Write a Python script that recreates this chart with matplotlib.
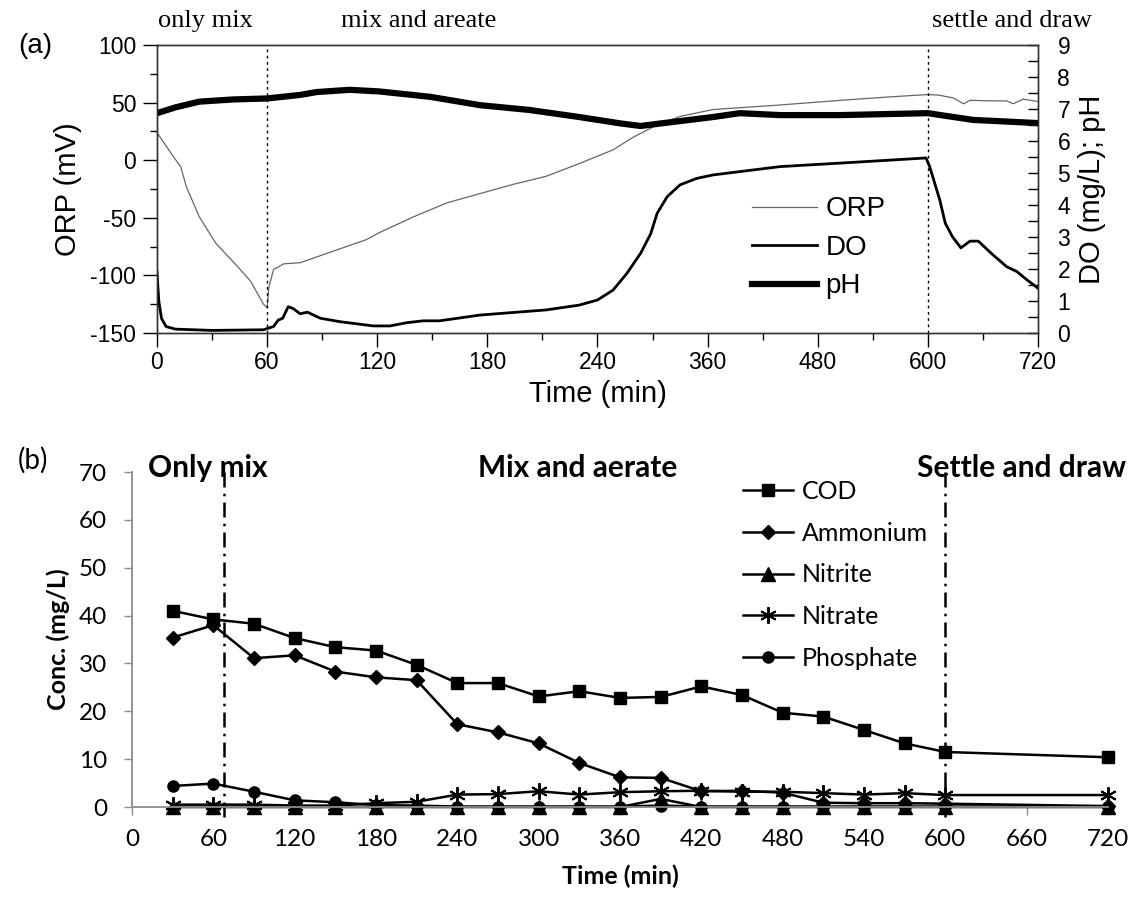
import numpy as np
import matplotlib
matplotlib.use("Agg")
import matplotlib.pyplot as plt
from matplotlib.ticker import FixedLocator, MultipleLocator

plt.rcParams["axes.unicode_minus"] = False

# ---- panel (a): online probes ----
orp_t = [0, 9, 13, 16, 23, 32, 42, 51, 58, 60, 61, 63.5, 69, 78, 87, 96, 114, 121,
         140, 158, 176, 194, 212, 230, 257, 279, 301, 330, 366, 403, 440, 505, 559,
         600, 612, 628, 639, 646, 668, 686, 693, 704, 720]
orp_v = [24, 3, -6, -23, -49, -72, -89, -105, -125, -128, -110, -95, -90, -89, -84, -79,
         -69, -63, -49, -37, -29, -21, -14, -3, 9, 20, 29, 38, 44, 46, 48, 52, 55,
         57, 56.5, 54, 49, 52, 51.5, 51.5, 49, 53, 51]

do_t = [0, 1, 2.5, 5, 10, 30, 58, 63.5, 66, 68.5, 71.5, 74, 78, 82, 89, 100, 118,
        127, 136, 145, 154, 176, 212, 230, 240, 257, 272, 287, 298, 305, 316, 330,
        348, 366, 439, 505, 598, 602, 613, 619, 627, 636, 646, 655, 671, 686, 697,
        708, 720]
do_v = [1.9, 1.0, 0.45, 0.2, 0.12, 0.08, 0.1, 0.2, 0.4, 0.46, 0.82, 0.77, 0.6, 0.65,
        0.46, 0.35, 0.22, 0.22, 0.32, 0.38, 0.38, 0.56, 0.72, 0.87, 1.03, 1.34, 1.86,
        2.49, 3.1, 3.74, 4.26, 4.63, 4.83, 4.94, 5.2, 5.31, 5.47, 5.2, 4.16, 3.43,
        3.0, 2.66, 2.87, 2.87, 2.44, 2.07, 1.92, 1.66, 1.4]

ph_t = [0, 10, 23, 42, 60, 78, 87, 105, 121, 149, 176, 203, 230, 265, 287, 312, 366,
        395, 439, 505, 600, 649, 720]
ph_v = [6.87, 7.05, 7.23, 7.3, 7.33, 7.44, 7.53, 7.6, 7.55, 7.38, 7.12, 6.97, 6.75,
        6.55, 6.47, 6.56, 6.75, 6.87, 6.81, 6.81, 6.87, 6.66, 6.56]

top_ticks = [0, 60, 120, 180, 240, 360, 480, 600, 720]
top_minor = [30, 90, 150, 210, 300, 420, 540, 660]

# ---- panel (b): grab samples ----
t_b = [30, 60, 90, 120, 150, 180, 210, 240, 270, 300, 330, 360, 390, 420, 450, 480,
       510, 540, 570, 600, 720]
cod = [41.0, 39.2, 38.3, 35.3, 33.4, 32.7, 29.7, 25.9, 25.9, 23.1, 24.2, 22.8, 23.0,
       25.2, 23.4, 19.7, 18.9, 16.1, 13.3, 11.5, 10.4]
ammonium = [35.4, 38.0, 31.1, 31.7, 28.3, 27.1, 26.5, 17.3, 15.6, 13.3, 9.2, 6.2, 6.1,
            3.3, 3.4, 3.0, 0.9, 0.8, 0.8, 0.7, 0.2]
nitrite = [0, 0, 0, 0, 0, 0, 0, 0, 0, 0, 0, 0, 1.7, 0, 0, 0, 0, 0, 0, 0, 0]
nitrate = [0.5, 0.5, 0.5, 0.3, 0.3, 0.8, 1.1, 2.6, 2.7, 3.3, 2.6, 3.1, 3.3, 3.4, 3.2,
           3.2, 2.9, 2.6, 2.9, 2.5, 2.5]
phosphate = [4.4, 4.9, 3.2, 1.4, 1.0, 0.4, 0.3, 0.1, 0.1, 0.1, 0.1, 0.1, 0.3, 0.1, 0.1,
             0.1, 0.1, 0.1, 0.1, 0.1, 0.1]


def fwd(t):
    t = np.asarray(t, dtype=float)
    return np.where(t <= 240, t, 240 + (t - 240) / 2.0)


def inv(u):
    u = np.asarray(u, dtype=float)
    return np.where(u <= 240, u, 240 + (u - 240) * 2.0)


fig = plt.figure(figsize=(11.35, 8.97), dpi=100)

# ================= (a) =================
sans = "Liberation Sans"
serif = "Liberation Serif"
ax = fig.add_axes([0.1383, 0.6288, 0.7762, 0.3210])
ax.set_xscale("function", functions=(fwd, inv))
ax.set_xlim(0, 720)
ax.set_ylim(-150, 100)
ax2 = ax.twinx()
ax2.set_ylim(0, 9)

l1, = ax.plot(orp_t, orp_v, color="#666666", lw=0.9, label="ORP")
l2, = ax2.plot(do_t, do_v, color="black", lw=2.0, label="DO")
l3, = ax2.plot(ph_t, ph_v, color="black", lw=4.5, label="pH")
for xv in (60, 600):
    ax.axvline(xv, color="black", lw=1.0, ls=(0, (2, 2.5)))

ax.xaxis.set_major_locator(FixedLocator(top_ticks))
ax.xaxis.set_minor_locator(FixedLocator(top_minor))
ax.set_xticklabels([str(v) for v in top_ticks])
ax.yaxis.set_major_locator(MultipleLocator(50))
ax.yaxis.set_minor_locator(MultipleLocator(25))
ax2.yaxis.set_major_locator(MultipleLocator(1))
ax2.yaxis.set_minor_locator(MultipleLocator(0.5))
ax.tick_params(axis="both", which="major", direction="out", length=10, width=1,
               labelsize=16.5, pad=3)
ax.tick_params(axis="both", which="minor", direction="out", length=5, width=1)
ax.tick_params(axis="y", which="major", pad=5)
ax2.tick_params(axis="y", which="both", direction="in", length=7, width=1,
                labelsize=16.5, pad=14)
for a in (ax, ax2):
    for lab in a.get_xticklabels() + a.get_yticklabels():
        lab.set_fontfamily(sans)
    for s in a.spines.values():
        s.set_linewidth(1.0)
        s.set_color("#333333")

ax.set_xlabel("Time (min)", fontsize=21, family=sans, labelpad=4)
ax.set_ylabel("ORP (mV)", fontsize=21, family=sans, labelpad=6)
ax2.set_ylabel("DO (mg/L); pH", fontsize=21, family=sans, labelpad=6)

ax.legend(handles=[l1, l2, l3], loc="upper left", bbox_to_anchor=(0.6626, 0.781),
          bbox_transform=fig.transFigure, frameon=False,
          prop={"family": sans, "size": 20}, handlelength=2.35, handletextpad=0.3,
          labelspacing=0.45, borderpad=0, borderaxespad=0)

fig.text(0.016, 0.949, "(a)", fontsize=20, family=sans, va="center")
fig.text(0.181, 0.977, "only mix", fontsize=19, family=serif, ha="center", va="center")
fig.text(0.369, 0.977, "mix and areate", fontsize=19, family=serif, ha="center",
         va="center")
fig.text(0.892, 0.977, "settle and draw", fontsize=19, family=serif, ha="center",
         va="center")

# ================= (b) =================
cal = "Lato"
bx = fig.add_axes([0.1163, 0.1003, 0.8599, 0.3735])
bx.set_xlim(0, 720)
bx.set_ylim(0, 70)
style = dict(color="black", lw=1.8, clip_on=False)
bx.plot(t_b, cod, marker="s", ms=8.5, label="COD", **style)
bx.plot(t_b, ammonium, marker="D", ms=7.5, label="Ammonium", **style)
bx.plot(t_b, nitrite, marker="^", ms=9.5, label="Nitrite", **style)
bx.plot(t_b, nitrate, marker=(6, 2, 0), ms=12, mew=1.4, label="Nitrate", **style)
bx.plot(t_b, phosphate, marker="o", ms=8, label="Phosphate", **style)
for xv in (68, 600):
    bx.axvline(xv, ymin=-0.03, ymax=1.0, color="black", lw=1.8,
               ls=(0, (6, 2.5, 1, 2.5)), clip_on=False)

bx.xaxis.set_major_locator(MultipleLocator(60))
bx.yaxis.set_major_locator(MultipleLocator(10))
bx.tick_params(axis="both", direction="out", length=6, width=1, color="#8c8c8c",
               labelsize=17.5)
bx.tick_params(axis="y", pad=12)
bx.tick_params(axis="x", pad=10)
for lab in bx.get_xticklabels() + bx.get_yticklabels():
    lab.set_fontfamily(cal)
for side in ("top", "right"):
    bx.spines[side].set_visible(False)
for side in ("left", "bottom"):
    bx.spines[side].set_color("#8c8c8c")
    bx.spines[side].set_linewidth(1.3)

bx.set_xlabel("Time (min)", fontsize=18, family=cal, fontweight="bold", labelpad=10)
bx.set_ylabel("Conc. (mg/L)", fontsize=18, family=cal, fontweight="bold", labelpad=6)

bx.legend(loc="upper left", bbox_to_anchor=(0.6546, 0.4650),
          bbox_transform=fig.transFigure, frameon=False,
          prop={"family": cal, "size": 18}, handlelength=2.0, handletextpad=0.35,
          labelspacing=0.75, borderpad=0, borderaxespad=0)

fig.text(0.016, 0.487, "(b)", fontsize=20, family=cal, va="center")
fig.text(0.183, 0.478, "Only mix", fontsize=21.5, family=cal, fontweight="bold",
         ha="center", va="center")
fig.text(0.509, 0.478, "Mix and aerate", fontsize=21.5, family=cal, fontweight="bold",
         ha="center", va="center")
fig.text(0.900, 0.478, "Settle and draw", fontsize=21.5, family=cal, fontweight="bold",
         ha="center", va="center")

fig.savefig("out.png", dpi=100, facecolor="white")
